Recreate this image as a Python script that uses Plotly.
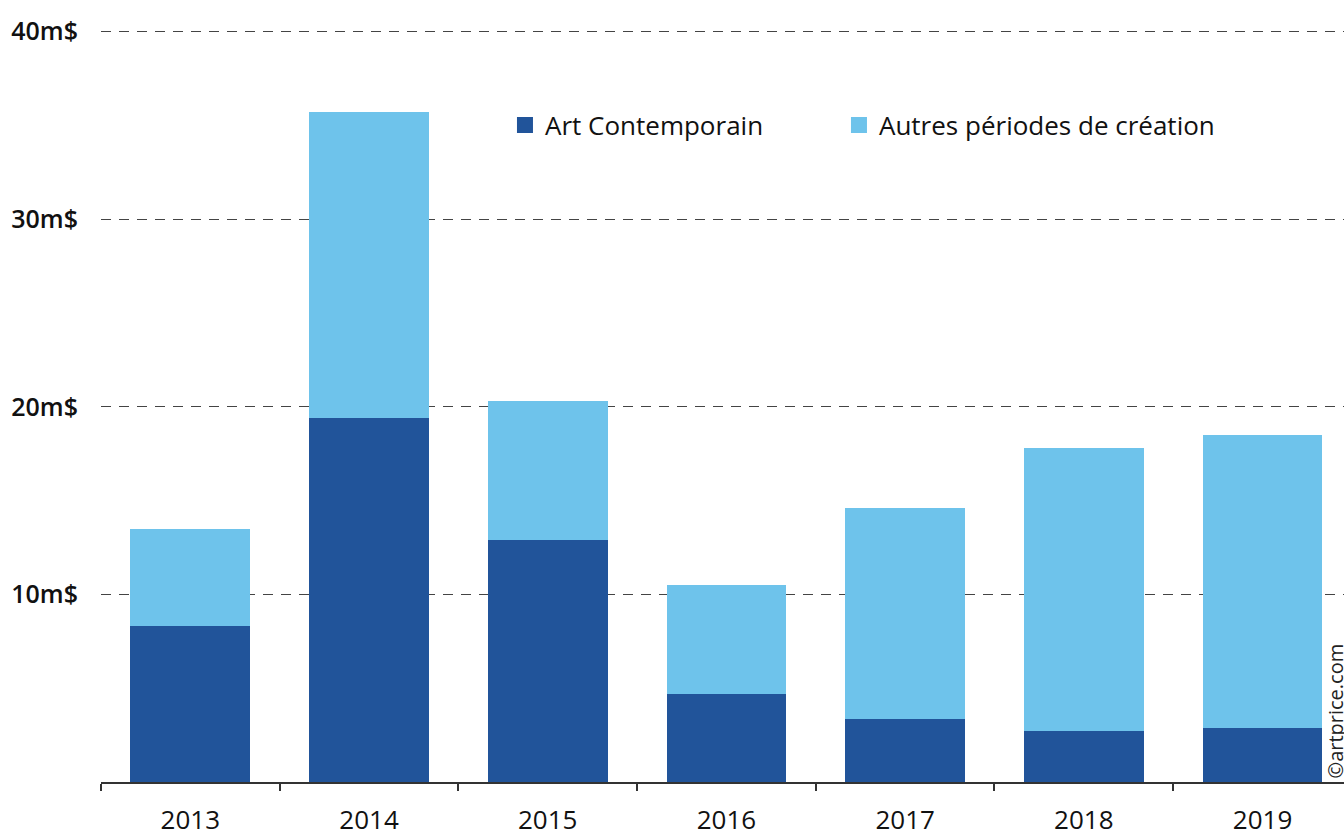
import plotly.graph_objects as go

years = ["2013", "2014", "2015", "2016", "2017", "2018", "2019"]
art_contemporain = [8.3, 19.4, 12.9, 4.7, 3.35, 2.7, 2.9]
autres_periodes = [5.2, 16.3, 7.4, 5.8, 11.25, 15.1, 15.6]
series_names = ["Art Contemporain", "Autres périodes de création"]
series_colors = ["#21549a", "#6ec3eb"]
y_ticks = [10, 20, 30, 40]
y_tick_labels = ["10m$", "20m$", "30m$", "40m$"]

FONT = "Open Sans"

fig = go.Figure()
for vals, name, col in zip([art_contemporain, autres_periodes], series_names, series_colors):
    fig.add_trace(go.Bar(x=years, y=vals, name=name, showlegend=False,
                         marker=dict(color=col, line=dict(width=0))))
# legend entries with square swatches, one legend box each
for name, col, lg in zip(series_names, series_colors, ["legend", "legend2"]):
    fig.add_trace(go.Scatter(x=[None], y=[None], mode="markers", name=name, legend=lg,
                             marker=dict(symbol="square", size=20, color=col)))

legend_common = dict(orientation="h", yanchor="middle", xanchor="left",
                     font=dict(size=26, family=FONT, color="#111111"),
                     itemsizing="trace", bgcolor="rgba(0,0,0,0)", itemwidth=30)

fig.update_layout(
    width=1344, height=832,
    barmode="stack", bargap=0.33,
    plot_bgcolor="white", paper_bgcolor="white",
    margin=dict(l=101, r=0, t=30, b=50, autoexpand=False),
    font=dict(family=FONT, color="#111111", size=26),
    showlegend=True,
    legend=dict(x=0.325, y=0.8737, **legend_common),
    legend2=dict(x=0.5937, y=0.8737, **legend_common),
    xaxis=dict(type="category", range=[-0.5, 6.456], showgrid=False, automargin=False,
               showline=True, linecolor="#333333", linewidth=1.5,
               ticks="outside", tickson="boundaries", ticklen=7, tickcolor="#333333",
               tickwidth=1.5, ticklabelstandoff=14,
               tickfont=dict(size=26, family=FONT, color="#111111")),
    yaxis=dict(range=[0, 40.08], tickvals=y_ticks, ticktext=y_tick_labels, automargin=False,
               showgrid=True, gridcolor="#444444", griddash="10px,8px", gridwidth=1,
               zeroline=False, showline=False, ticks="",
               ticklabelstandoff=22,
               tickfont=dict(size=25, family=FONT, color="#111111", weight=600)),
)

fig.add_annotation(text="©artprice.com", xref="paper", yref="paper", x=1.0, y=0.0,
                   xanchor="center", yanchor="bottom", textangle=-90, showarrow=False,
                   font=dict(size=20, family=FONT, color="#222222"), xshift=-9, yshift=1)

fig.write_html("out.html",
               config={"displayModeBar": False},
               post_script="document.body.style.margin='0';"
                           "document.documentElement.style.overflow='hidden';")
